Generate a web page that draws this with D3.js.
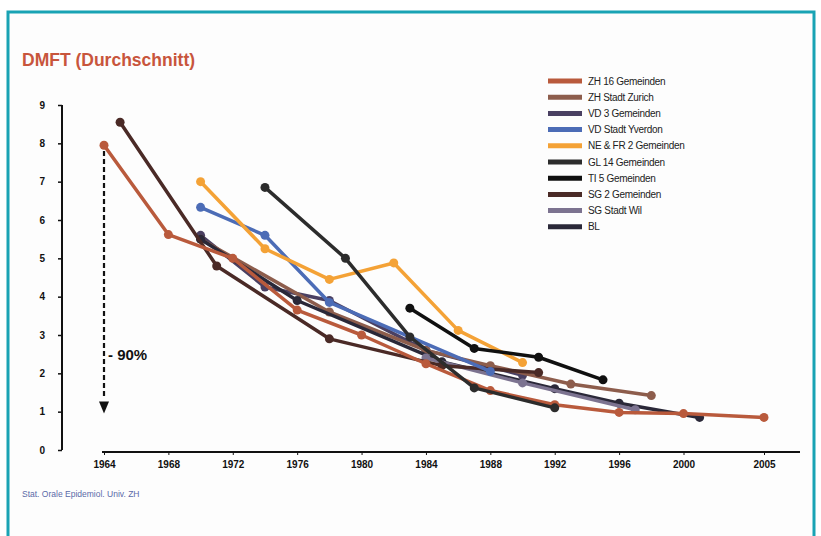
<!DOCTYPE html>
<html><head><meta charset="utf-8">
<script src="https://cdn.jsdelivr.net/npm/d3@7"></script>
<style>
html,body{margin:0;padding:0;background:#fff;}
svg{display:block;font-family:"Liberation Sans",Arial,sans-serif;}
</style></head>
<body>
<svg id="c" width="821" height="536"></svg>
<script>
const seriesNames = ["ZH 16 Gemeinden","ZH Stadt  Zurich","VD 3 Gemeinden","VD Stadt  Yverdon","NE & FR 2 Gemeinden","GL 14 Gemeinden","TI 5 Gemeinden","SG 2 Gemeinden","SG Stadt  Wil","BL"];
const seriesColors = ["#b95a3c","#8d5d4c","#4a4062","#4c6cb6","#f4a236","#2c2c2c","#101010","#4a2a26","#7c7390","#2a2838"];
const seriesYears = [
  [1964,1968,1972,1976,1980,1984,1988,1992,1996,2000,2005],
  [1970,1978,1984,1988,1993,1998],
  [1970,1974,1978,1984,1990],
  [1970,1974,1978,1988],
  [1970,1974,1978,1982,1986,1990],
  [1974,1979,1983,1987,1992],
  [1983,1987,1991,1995],
  [1965,1971,1978,1985,1991],
  [1984,1990,1997],
  [1970,1976,1985,1992,1996,2001]
];
const seriesValues = [
  [7.95,5.62,5.0,3.65,3.0,2.25,1.55,1.18,0.98,0.95,0.85],
  [5.5,3.6,2.6,2.2,1.72,1.42],
  [5.6,4.25,3.9,2.6,1.95],
  [6.33,5.6,3.85,2.05],
  [7.0,5.25,4.45,4.88,3.12,2.28],
  [6.85,5.0,2.95,1.62,1.1],
  [3.7,2.65,2.42,1.83],
  [8.55,4.8,2.9,2.2,2.02],
  [2.4,1.75,1.05],
  [5.5,3.9,2.3,1.6,1.22,0.85]
];
const xTicks = [1964,1968,1972,1976,1980,1984,1988,1992,1996,2000,2005];
const yTicks = [0,1,2,3,4,5,6,7,8,9];
const drawOrder = [2,1,9,8,7,0,3,4,5,6];

const svg = d3.select("#c");
svg.append("rect").attr("x",0).attr("y",0).attr("width",821).attr("height",536).attr("fill","#fff");
svg.append("rect").attr("x",8).attr("y",12).attr("width",806).attr("height",540)
  .attr("fill","#fdfdfd").attr("stroke","#19a3b4").attr("stroke-width",3);

const x = d3.scaleLinear().domain([1964,2005]).range([104,764]);
const y = d3.scaleLinear().domain([0,9]).range([450,105]);

svg.append("text").attr("x",22).attr("y",66).text("DMFT (Durchschnitt)")
  .attr("fill","#c8553c").attr("font-size",17.5).attr("font-weight","bold");

// Y axis
const ya = svg.append("g").attr("transform","translate(62,0)")
  .call(d3.axisLeft(y).tickValues(yTicks).tickSize(4).tickPadding(13).tickFormat(d3.format("d")));
ya.select(".domain").attr("stroke","#111").attr("stroke-width",2).attr("d","M0,105V450");
ya.selectAll(".tick line").attr("stroke","#111").attr("stroke-width",1.5);
ya.selectAll(".tick text").attr("font-size",10).attr("font-weight","bold").attr("fill","#111");

// X axis
const xa = svg.append("g").attr("transform","translate(0,452)")
  .call(d3.axisBottom(x).tickValues(xTicks).tickSize(3).tickPadding(6).tickFormat(d3.format("d")));
xa.select(".domain").attr("stroke","#111").attr("stroke-width",2).attr("d","M102,0H800");
xa.selectAll(".tick line").attr("stroke","#111").attr("stroke-width",1);
xa.selectAll(".tick text").attr("font-size",10).attr("font-weight","bold").attr("fill","#111");

// lines
const line = d3.line().x(d=>x(d[0])).y(d=>y(d[1]));
drawOrder.forEach(i=>{
  const pts = seriesYears[i].map((yr,j)=>[yr,seriesValues[i][j]]);
  const g = svg.append("g");
  g.append("path").datum(pts).attr("d",line).attr("fill","none")
    .attr("stroke",seriesColors[i]).attr("stroke-width",3.5).attr("stroke-linejoin","round");
  g.selectAll("circle").data(pts).join("circle")
    .attr("cx",d=>x(d[0])).attr("cy",d=>y(d[1])).attr("r",4.5).attr("fill",seriesColors[i]);
});

// arrow
const ax = x(1964);
svg.append("line").attr("x1",ax).attr("x2",ax).attr("y1",y(7.8)).attr("y2",y(1.35))
  .attr("stroke","#111").attr("stroke-width",2.2).attr("stroke-dasharray","5,3");
const tipY = y(0.95);
svg.append("path").attr("d",`M${ax-5},${tipY-12}L${ax+5},${tipY-12}L${ax},${tipY}Z`).attr("fill","#111");
svg.append("text").attr("x",ax+4).attr("y",360).text("- 90%")
  .attr("font-size",15).attr("font-weight","bold").attr("fill","#111");

// legend
const leg = svg.append("g");
seriesNames.forEach((n,i)=>{
  const ly = 81 + i*16.2;
  leg.append("line").attr("x1",548).attr("x2",582).attr("y1",ly).attr("y2",ly)
    .attr("stroke",seriesColors[i]).attr("stroke-width",5);
  leg.append("text").attr("x",588).attr("y",ly+3.5).text(n)
    .attr("font-size",10).attr("fill","#222").attr("letter-spacing","-0.3");
});

svg.append("text").attr("x",22).attr("y",497).text("Stat. Orale Epidemiol. Univ. ZH")
  .attr("font-size",8.5).attr("fill","#5a6aa8");
</script>
</body></html>
